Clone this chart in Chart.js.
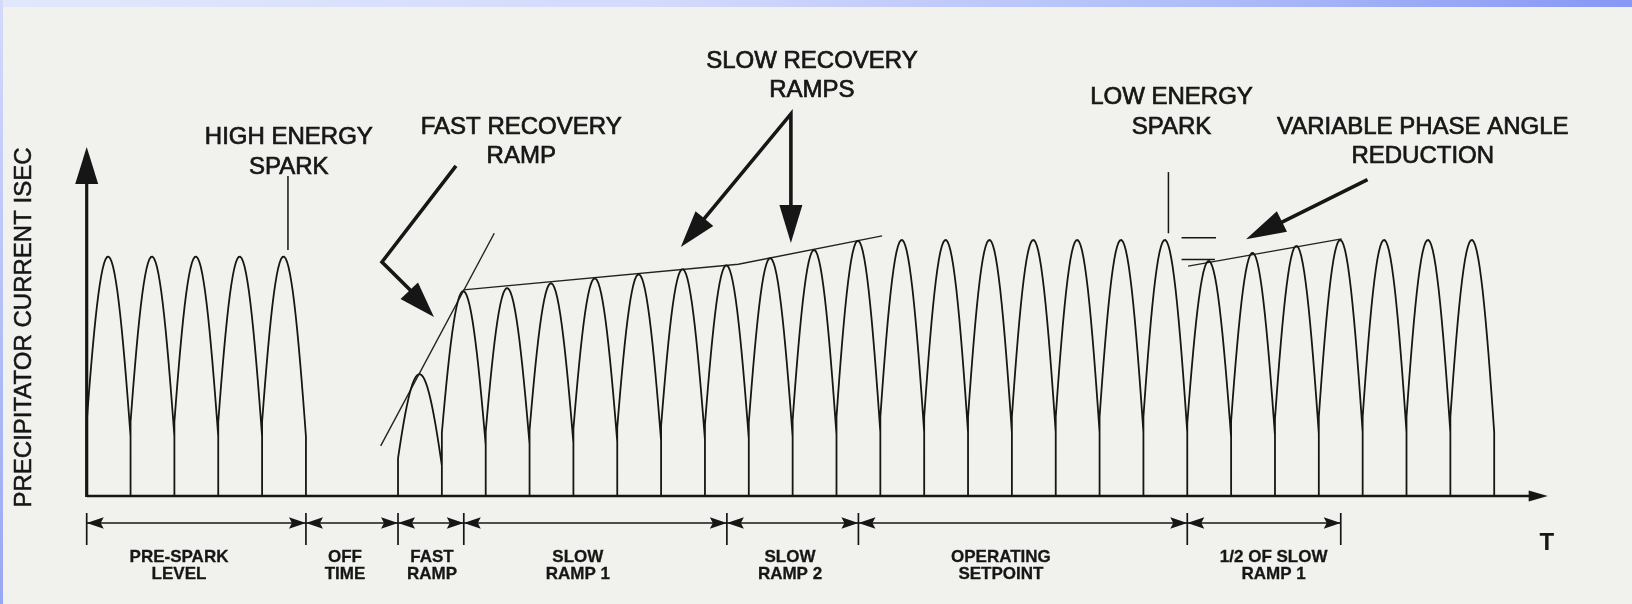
<!DOCTYPE html>
<html><head><meta charset="utf-8">
<script src="https://cdn.jsdelivr.net/npm/chart.js@4.4.1/dist/chart.umd.min.js"></script>
<style>
html,body{margin:0;padding:0;width:1632px;height:604px;overflow:hidden;background:#f1f1ed;}
#wrap{position:absolute;left:0;top:0;width:1632px;height:604px;}
#topbar{position:absolute;left:0;top:0;width:1632px;height:7px;background:linear-gradient(to right,#e2e8fb 0%,#d3dafb 40%,#aebbf8 75%,#8797f4 100%);z-index:2}
#leftbar{position:absolute;left:0;top:0;width:3px;height:604px;background:linear-gradient(to bottom,#d3dafb,#98a7f3);z-index:2}
</style></head><body>
<div id="wrap"><canvas id="c" width="1632" height="604"></canvas></div>
<div id="topbar"></div><div id="leftbar"></div>
<script>
// ---------------- DATA (x in half-cycles, y in % of operating peak) ----------------
const preSparkStarts = [0, 1, 2, 3, 4];
const preSparkPeaks  = [93.5, 93.5, 93.5, 93.5, 93.5];
const sparkStarts    = [7.1];
const sparkPeaks     = [47.6];
const recoveryStarts = [8.1, 9.1, 10.1, 11.1, 12.1, 13.1, 14.1, 15.1, 16.1, 17.1, 18.1, 19.1,
                        20.1, 21.1, 22.1, 23.1, 24.1, 25.1, 26.1, 27.1, 28.1, 29.1, 30.1, 31.1];
const recoveryPeaks  = [80, 81.2, 83.1, 85, 86.6, 88.6, 90.1, 92.9, 96.1, 99.7, 100, 100,
                        100, 100, 100, 100, 100, 91.8, 95, 97.7, 100, 100, 100, 100];

// reference / annotation lines
const fastRampTangent = [{x: 6.705, y: 19.6}, {x: 9.295, y: 102.6}];
const slowRampLine    = [{x: 8.589, y: 80.5}, {x: 14.86, y: 90.5}, {x: 18.14, y: 101.6}];
const phaseLine       = [{x: 25.12, y: 89.8}, {x: 28.62, y: 100.4}];

// time-interval brackets
const bracketTicks  = [0, 5, 7.1, 8.6, 14.6, 17.6, 25.1, 28.6];
const bracketLabels = [["PRE-SPARK", "LEVEL"], ["OFF", "TIME"], ["FAST", "RAMP"], ["SLOW", "RAMP 1"],
                       ["SLOW", "RAMP 2"], ["OPERATING", "SETPOINT"], ["1/2 OF SLOW", "RAMP 1"]];
const bracketLabelX = [2.105, 5.89, 7.875, 11.2, 16.04, 20.85, 27.07];

// callouts
const calloutTexts = [["HIGH ENERGY", "SPARK"], ["FAST RECOVERY", "RAMP"], ["SLOW RECOVERY", "RAMPS"],
                      ["LOW ENERGY", "SPARK"], ["VARIABLE PHASE ANGLE", "REDUCTION"]];
const calloutAnchors = [[4.61, 140.2, 128.5], [9.91, 143.9, 132.6], [16.54, 169.9, 158.6],
                        [24.74, 155.8, 144.1], [30.47, 143.9, 132.6]];
const yTitle = "PRECIPITATOR CURRENT ISEC";
const xTitle = "T";

// ---------------- build waveform ----------------
const PH_S = 0.1 * Math.PI, PH_E = 0.92 * Math.PI, NS = 30;
function addPulses(starts, peaks, out) {
  for (let i = 0; i < starts.length; i++) {
    const s = starts[i], p = peaks[i];
    out.push({x: s, y: 0});
    for (let j = 0; j <= NS; j++) {
      const t = j / NS;
      out.push({x: s + t, y: p * Math.sin(PH_S + t * (PH_E - PH_S))});
    }
    out.push({x: s + 1, y: 0});
  }
}
const wave = [];
addPulses(preSparkStarts, preSparkPeaks, wave);
wave.push({x: 6, y: null});
addPulses(sparkStarts, sparkPeaks, wave);
addPulses(recoveryStarts, recoveryPeaks, wave);

const INK = '#161616';
const TEXT_FONT = "24px 'Liberation Sans', Arial, sans-serif";
const BR_FONT = "bold 17px 'Liberation Sans Narrow', 'Liberation Sans', Arial, sans-serif";

function head(ctx, tx, ty, fx, fy, len, hw, notch) {
  const a = Math.atan2(ty - fy, tx - fx);
  const c = Math.cos(a), s = Math.sin(a);
  const bx = tx - c * len, by = ty - s * len;
  ctx.beginPath();
  ctx.moveTo(tx, ty);
  ctx.lineTo(bx - s * hw, by + c * hw);
  ctx.lineTo(tx - c * (len - (notch || 0)), ty - s * (len - (notch || 0)));
  ctx.lineTo(bx + s * hw, by - c * hw);
  ctx.closePath();
  ctx.fill();
}
function heavyText(ctx, txt, x, y, w) {
  ctx.fillText(txt, x, y);
  ctx.lineWidth = w; ctx.strokeText(txt, x, y);
}

const decor = {
  id: 'decor',
  afterDatasetsDraw(chart) {
    const ctx = chart.ctx, xs = chart.scales.x, ys = chart.scales.y;
    const X = v => xs.getPixelForValue(v), Y = v => ys.getPixelForValue(v);
    ctx.save();
    ctx.strokeStyle = INK; ctx.fillStyle = INK; ctx.lineCap = 'butt';

    // y axis with arrow
    ctx.lineWidth = 3.2;
    ctx.beginPath(); ctx.moveTo(X(0), Y(0) + 1); ctx.lineTo(X(0), Y(ys.max) + 20); ctx.stroke();
    head(ctx, X(0), Y(ys.max), X(0), Y(0), 37, 11.5, 0);
    // x axis with arrow
    ctx.lineWidth = 2.4;
    ctx.beginPath(); ctx.moveTo(X(0), Y(0)); ctx.lineTo(X(xs.max) - 10, Y(0)); ctx.stroke();
    head(ctx, X(xs.max), Y(0), X(0), Y(0), 19, 5.5, 0);

    // brackets
    const by = Y(-10.54), t1 = Y(-6.64), t2 = Y(-19.14);
    ctx.lineWidth = 1.7;
    ctx.beginPath(); ctx.moveTo(X(bracketTicks[0]), by); ctx.lineTo(X(bracketTicks[bracketTicks.length - 1]), by); ctx.stroke();
    for (const t of bracketTicks) { ctx.beginPath(); ctx.moveTo(X(t), t1); ctx.lineTo(X(t), t2); ctx.stroke(); }
    for (let i = 0; i < bracketTicks.length - 1; i++) {
      const a = X(bracketTicks[i]), b = X(bracketTicks[i + 1]);
      head(ctx, a, by, b, by, 17, 5.8, 3);
      head(ctx, b, by, a, by, 17, 5.8, 3);
    }
    ctx.font = BR_FONT; ctx.textAlign = 'center'; ctx.textBaseline = 'middle';
    bracketLabels.forEach((lab, i) => {
      heavyText(ctx, lab[0], X(bracketLabelX[i]), Y(-23.8), 0.3);
      heavyText(ctx, lab[1], X(bracketLabelX[i]), Y(-30.5), 0.3);
    });

    // thin leader lines
    ctx.lineWidth = 1.5;
    const thin = (pts) => { ctx.beginPath(); pts.forEach((p, k) => k ? ctx.lineTo(X(p[0]), Y(p[1])) : ctx.moveTo(X(p[0]), Y(p[1]))); ctx.stroke(); };
    thin([[4.59, 125.0], [4.59, 96.1]]);
    thin([[24.67, 126.5], [24.67, 102.6]]);
    thin([[24.97, 100.9], [25.755, 100.9]]);
    thin([[24.97, 92.4], [25.73, 92.4]]);

    // thick callout arrows
    ctx.lineWidth = 3.6; ctx.lineJoin = 'miter';
    ctx.beginPath(); ctx.moveTo(X(8.422), Y(128.9)); ctx.lineTo(X(6.734), Y(91.4)); ctx.lineTo(X(7.70), Y(75.0)); ctx.stroke();
    head(ctx, X(7.92), Y(69.9), X(6.734), Y(91.4), 36, 12, 0);
    ctx.beginPath(); ctx.moveTo(X(13.9), Y(104.5)); ctx.lineTo(X(16.06), Y(149.2)); ctx.lineTo(X(16.06), Y(110)); ctx.stroke();
    head(ctx, X(13.55), Y(97.2), X(16.06), Y(149.2), 37, 11.5, 0);
    head(ctx, X(16.06), Y(98.8), X(16.06), Y(149.2), 38, 11.5, 0);
    ctx.beginPath(); ctx.moveTo(X(29.21), Y(123.6)); ctx.lineTo(X(27.1), Y(105.6)); ctx.stroke();
    head(ctx, X(26.44), Y(100.3), X(29.21), Y(123.6), 40, 11.5, 0);

    // callout texts
    ctx.font = TEXT_FONT; ctx.textAlign = 'center'; ctx.textBaseline = 'middle';
    calloutTexts.forEach((lines, i) => {
      const a = calloutAnchors[i];
      heavyText(ctx, lines[0], X(a[0]), Y(a[1]), 0.7);
      heavyText(ctx, lines[1], X(a[0]), Y(a[2]), 0.7);
    });
    // axis titles
    ctx.save();
    ctx.translate(X(-1.423), Y(65.8)); ctx.rotate(-Math.PI / 2);
    heavyText(ctx, yTitle, 0, 0, 0.5);
    ctx.restore();
    ctx.font = "bold 24px 'Liberation Sans', Arial, sans-serif";
    ctx.fillText(xTitle, X(33.3), Y(-18.6));
    ctx.restore();
  }
};

new Chart(document.getElementById('c'), {
  type: 'scatter',
  data: {
    datasets: [
      {data: wave, showLine: true, borderColor: INK, borderWidth: 1.8, pointRadius: 0, tension: 0, spanGaps: false, clip: false},
      {data: fastRampTangent, showLine: true, borderColor: '#222', borderWidth: 1.4, pointRadius: 0, clip: false},
      {data: slowRampLine, showLine: true, borderColor: '#222', borderWidth: 1.4, pointRadius: 0, clip: false},
      {data: phaseLine, showLine: true, borderColor: '#222', borderWidth: 1.4, pointRadius: 0, clip: false}
    ]
  },
  options: {
    responsive: false, animation: false, devicePixelRatio: 1, events: [],
    layout: {padding: {left: 86.7, right: 84.3, top: 147, bottom: 108}},
    plugins: {legend: {display: false}, tooltip: {enabled: false}},
    scales: {
      x: {type: 'linear', display: false, min: 0, max: 33.32},
      y: {type: 'linear', display: false, min: 0, max: 136.3}
    }
  },
  plugins: [decor]
});
</script>
</body></html>
